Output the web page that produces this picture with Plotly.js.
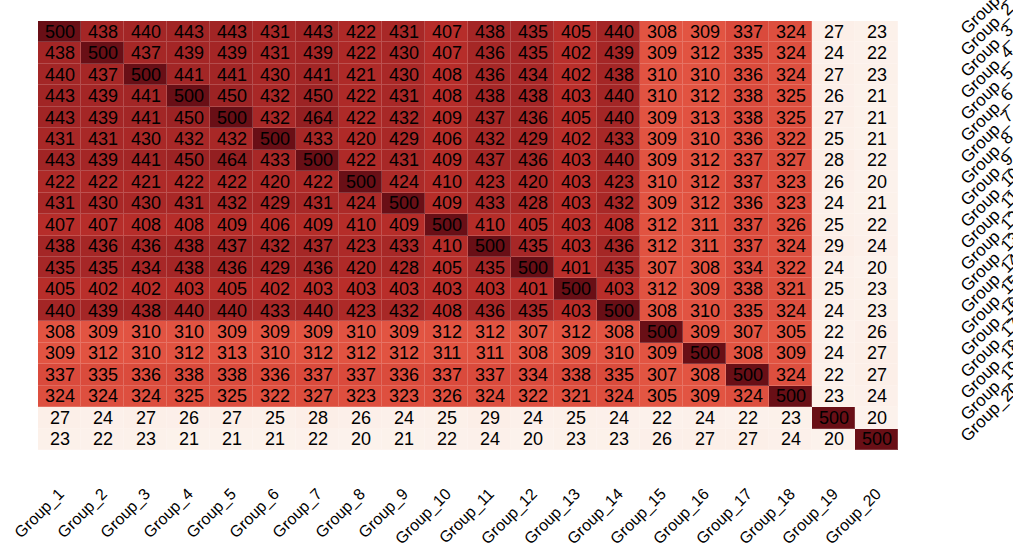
<!DOCTYPE html>
<html>
<head>
<meta charset="utf-8">
<script src="https://cdn.plot.ly/plotly-3.0.1.min.js"></script>
<style>html,body{margin:0;padding:0;background:#fff;}#chart{width:1013px;height:550px;}</style>
</head>
<body>
<div id="chart"></div>
<script>
var groups = ["Group_1","Group_2","Group_3","Group_4","Group_5","Group_6","Group_7","Group_8","Group_9","Group_10",
              "Group_11","Group_12","Group_13","Group_14","Group_15","Group_16","Group_17","Group_18","Group_19","Group_20"];

var row01 = [500,438,440,443,443,431,443,422,431,407,438,435,405,440,308,309,337,324,27,23];
var row02 = [438,500,437,439,439,431,439,422,430,407,436,435,402,439,309,312,335,324,24,22];
var row03 = [440,437,500,441,441,430,441,421,430,408,436,434,402,438,310,310,336,324,27,23];
var row04 = [443,439,441,500,450,432,450,422,431,408,438,438,403,440,310,312,338,325,26,21];
var row05 = [443,439,441,450,500,432,464,422,432,409,437,436,405,440,309,313,338,325,27,21];
var row06 = [431,431,430,432,432,500,433,420,429,406,432,429,402,433,309,310,336,322,25,21];
var row07 = [443,439,441,450,464,433,500,422,431,409,437,436,403,440,309,312,337,327,28,22];
var row08 = [422,422,421,422,422,420,422,500,424,410,423,420,403,423,310,312,337,323,26,20];
var row09 = [431,430,430,431,432,429,431,424,500,409,433,428,403,432,309,312,336,323,24,21];
var row10 = [407,407,408,408,409,406,409,410,409,500,410,405,403,408,312,311,337,326,25,22];
var row11 = [438,436,436,438,437,432,437,423,433,410,500,435,403,436,312,311,337,324,29,24];
var row12 = [435,435,434,438,436,429,436,420,428,405,435,500,401,435,307,308,334,322,24,20];
var row13 = [405,402,402,403,405,402,403,403,403,403,403,401,500,403,312,309,338,321,25,23];
var row14 = [440,439,438,440,440,433,440,423,432,408,436,435,403,500,308,310,335,324,24,23];
var row15 = [308,309,310,310,309,309,309,310,309,312,312,307,312,308,500,309,307,305,22,26];
var row16 = [309,312,310,312,313,310,312,312,312,311,311,308,309,310,309,500,308,309,24,27];
var row17 = [337,335,336,338,338,336,337,337,336,337,337,334,338,335,307,308,500,324,22,27];
var row18 = [324,324,324,325,325,322,327,323,323,326,324,322,321,324,305,309,324,500,23,24];
var row19 = [27,24,27,26,27,25,28,26,24,25,29,24,25,24,22,24,22,23,500,20];
var row20 = [23,22,23,21,21,21,22,20,21,22,24,20,23,23,26,27,27,24,20,500];

var zValues = [row01,row02,row03,row04,row05,row06,row07,row08,row09,row10,
               row11,row12,row13,row14,row15,row16,row17,row18,row19,row20];

var scaleMain = [
  [0.0, 'rgb(252,242,236)'],
  [0.2, 'rgb(249,200,180)'],
  [0.45, 'rgb(240,120,95)'],
  [0.6, 'rgb(226,84,66)'],
  [0.7, 'rgb(212,68,56)'],
  [0.8, 'rgb(184,46,42)'],
  [0.875, 'rgb(163,38,38)'],
  [0.93, 'rgb(145,30,32)'],
  [1.0, 'rgb(105,15,22)']
];
// lighter version for the thin cell borders
var scaleLine = scaleMain.map(function(s){
  var m = s[1].match(/\d+/g).map(Number);
  var c = m.map(function(v){ return Math.round(v + (255 - v) * 0.18); });
  return [s[0], 'rgb(' + c.join(',') + ')'];
});

var underTrace = {
  type: 'heatmap', z: zValues, x: groups, y: groups,
  zmin: 20, zmax: 500, showscale: false, hoverinfo: 'skip',
  colorscale: scaleLine
};
var mainTrace = {
  type: 'heatmap', z: zValues, x: groups, y: groups,
  zmin: 20, zmax: 500, showscale: false, hoverinfo: 'skip',
  colorscale: scaleMain, xgap: 1, ygap: 1,
  texttemplate: '%{z}',
  textfont: {family: 'Liberation Sans, Arial, sans-serif', size: 18, color: '#000'}
};

var layout = {
  width: 1013, height: 550,
  margin: {l: 38, r: 115, t: 21, b: 100},
  paper_bgcolor: '#fff', plot_bgcolor: '#fff',
  font: {family: 'Liberation Sans, Arial, sans-serif', color: '#000'},
  xaxis: {
    type: 'category', tickangle: -45, showgrid: false, zeroline: false, showline: false,
    ticks: 'outside', ticklen: 27, tickcolor: 'rgba(0,0,0,0)',
    tickfont: {size: 16, color: '#000'}
  },
  yaxis: {
    type: 'category', autorange: 'reversed', side: 'right', tickangle: -45,
    showgrid: false, zeroline: false, showline: false,
    ticks: 'outside', ticklen: 59, tickcolor: 'rgba(0,0,0,0)',
    tickfont: {size: 17, color: '#000'}
  }
};

Plotly.newPlot('chart', [underTrace, mainTrace], layout, {displayModeBar: false, staticPlot: true});
</script>
</body>
</html>
